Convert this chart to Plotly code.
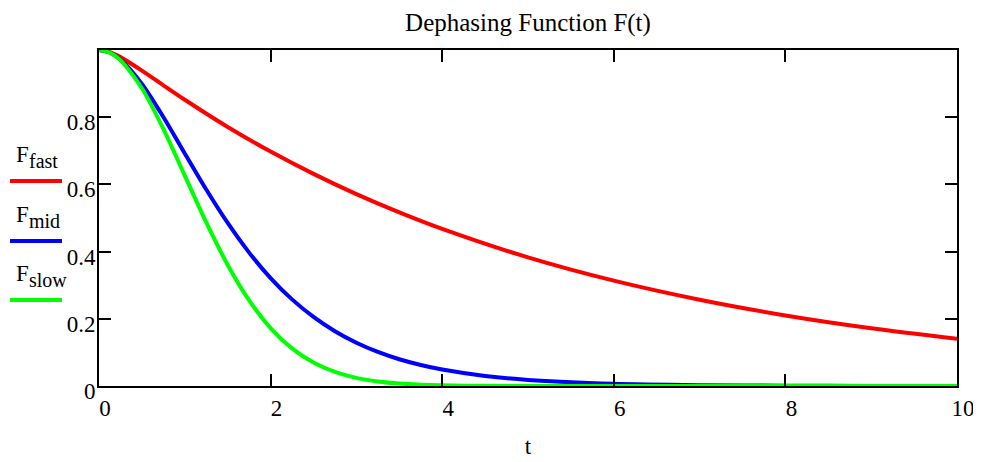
import plotly.graph_objects as go

t_fast = [0, 0.125, 0.25, 0.5, 0.75, 1, 1.5, 2, 2.5, 3, 3.5, 4, 5, 6, 7, 8, 9, 10]
f_fast = [1.0, 0.9936, 0.9788, 0.9387, 0.895, 0.8519, 0.771, 0.6977, 0.6313, 0.5712,
          0.5169, 0.4677, 0.3829, 0.3135, 0.2567, 0.2101, 0.1720, 0.1409]

t_mid = [0, 0.125, 0.25, 0.5, 0.75, 1, 1.25, 1.5, 1.75, 2, 2.25, 2.5, 2.75, 3, 3.25, 3.5,
         3.75, 4, 4.5, 5, 6, 7, 8, 9, 10]
f_mid = [1.0, 0.9925, 0.9716, 0.899, 0.8006, 0.6922, 0.5848, 0.4852, 0.397, 0.3213,
         0.2578, 0.2055, 0.163, 0.1288, 0.1014, 0.0796, 0.0624, 0.0489, 0.0299, 0.0182,
         0.0067, 0.0025, 0.0009, 0.0003, 0.0001]

t_slow = [0, 0.125, 0.25, 0.5, 0.75, 1, 1.25, 1.5, 1.75, 2, 2.25, 2.5, 2.75, 3, 3.25, 3.5,
          3.75, 4, 4.5, 5, 6, 8, 10]
f_slow = [1.0, 0.9923, 0.9697, 0.8861, 0.7651, 0.6261, 0.4868, 0.3604, 0.2548, 0.1724,
          0.1118, 0.0697, 0.0418, 0.0242, 0.0136, 0.0073, 0.0039, 0.0020, 0.0005, 0.0001,
          0.0, 0.0, 0.0]

x_ticks = [0, 2, 4, 6, 8, 10]
y_ticks = [0, 0.2, 0.4, 0.6, 0.8]
y_ticktext = ["0", "0.2", "0.4", "0.6", "0.8"]

series = [
    ("fast", t_fast, f_fast, "#ff0000"),
    ("mid", t_mid, f_mid, "#0000ff"),
    ("slow", t_slow, f_slow, "#00ff00"),
]

FONT = "Liberation Serif, Times New Roman, serif"

# page body has an 8px margin; compensate so the plot lands where the reference has it
OFF = 8
W, H = 981, 462
L, R, T, B = 99 - OFF, W - 957 + OFF, 50 - OFF, H - 386 + OFF

fig = go.Figure()
for name, x, y, c in series:
    fig.add_trace(go.Scatter(x=x, y=y, mode="lines", name="F" + name,
                             line=dict(color=c, width=4, shape="spline", smoothing=0.8),
                             showlegend=False))

pw, ph = 957 - 99, 386 - 50


def px_x(px):
    return (px - 99) / pw


def px_y(py):
    return (386 - py) / ph


# custom legend: "F" with a large subscript above a line sample
leg_base_y = [161, 221, 280]
leg_line_y = [181, 241, 300]
for (name, _, _, c), by, ly in zip(series, leg_base_y, leg_line_y):
    fig.add_annotation(text="F", xref="paper", yref="paper", x=px_x(14), y=px_y(by - 7),
                       xanchor="left", yanchor="middle", showarrow=False,
                       font=dict(family=FONT, size=23, color="black"))
    fig.add_annotation(text=name, xref="paper", yref="paper", x=px_x(27), y=px_y(by + 6 - 6),
                       xanchor="left", yanchor="middle", showarrow=False,
                       font=dict(family=FONT, size=20, color="black"))
    fig.add_shape(type="line", xref="paper", yref="paper",
                  x0=px_x(10), x1=px_x(62), y0=px_y(ly), y1=px_y(ly),
                  line=dict(color=c, width=4))

axis_common = dict(showline=True, linecolor="black", linewidth=2, mirror="ticks",
                   ticks="inside", ticklen=12, tickwidth=2, tickcolor="black",
                   showgrid=False, zeroline=False,
                   tickfont=dict(family=FONT, size=23, color="black"))

fig.update_xaxes(range=[0, 10], tickvals=x_ticks, ticklabelshift=6,
                 title=dict(text="t", font=dict(family=FONT, size=23, color="black"), standoff=18),
                 **axis_common)
fig.update_yaxes(range=[0, 1], tickvals=y_ticks, ticktext=y_ticktext,
                 ticklabelshift=5, ticklabelstandoff=-3, **axis_common)

fig.update_layout(
    width=W, height=H,
    margin=dict(l=L, r=R, t=T, b=B, autoexpand=False),
    paper_bgcolor="white", plot_bgcolor="white",
    title=dict(text="Dephasing Function F(t)", x=(528 - OFF) / W, xanchor="center",
               y=1 - (22 - OFF) / H, yanchor="middle",
               font=dict(family=FONT, size=25, color="black")),
    font=dict(family=FONT),
)

fig.write_html("out.html")
